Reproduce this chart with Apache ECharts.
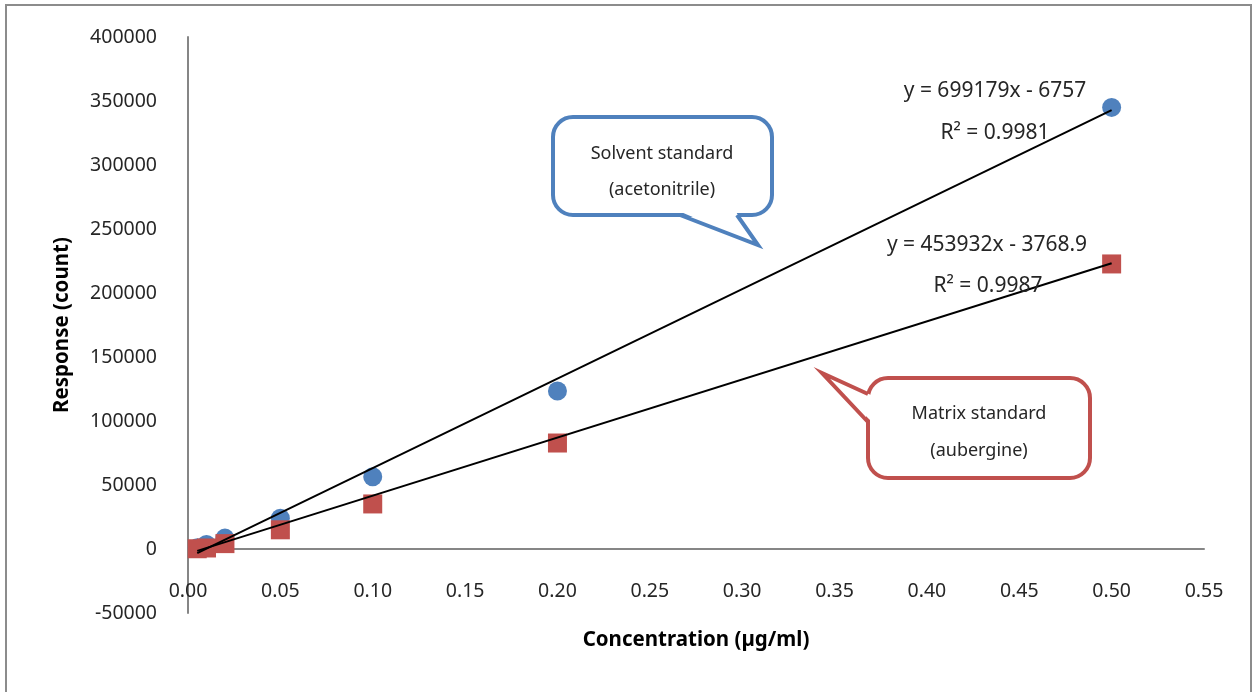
<!DOCTYPE html>
<html>
<head>
<meta charset="utf-8">
<script src="https://cdn.jsdelivr.net/npm/echarts@6/dist/echarts.min.js"></script>
<style>
  html, body { margin: 0; padding: 0; background: #fff; }
  #chart { width: 1253px; height: 692px; }
</style>
</head>
<body>
<div id="chart"></div>
<script>
// Данные: концентрация и отклик
const concentration = [0.005, 0.01, 0.02, 0.05, 0.1, 0.2, 0.5];
const solventResponse = [1000, 3500, 8500, 24000, 56500, 123500, 345000];
const matrixResponse = [200, 800, 4200, 15000, 35200, 82800, 222700];

// Линии тренда (концы по уравнениям)
const solventTrend = [[0.005, -3261], [0.5, 342833]];
const matrixTrend = [[0.005, -1499], [0.5, 223197]];

const xTicks = { min: 0, max: 0.55, interval: 0.05 };
const yTicks = { min: -50000, max: 400000, interval: 50000 };

const FONT = '"Noto Sans", "Open Sans", sans-serif';
const BLUE = '#4F81BD';
const RED = '#C0504D';

const chart = echarts.init(document.getElementById('chart'));

const pairs = (xs, ys) => xs.map((x, i) => [x, ys[i]]);

const txt = (x, y, text, size) => ({
  type: 'text', z: 12, x: x, y: y,
  style: { text: text, font: size + 'px ' + FONT, fill: '#262626', align: 'center', verticalAlign: 'middle' }
});

const option = {
  backgroundColor: '#fff',
  animation: false,
  grid: { left: 188, right: 49, top: 37, bottom: 79, outerBoundsMode: 'none', containLabel: false },
  xAxis: {
    type: 'value',
    min: xTicks.min, max: xTicks.max, interval: xTicks.interval,
    name: 'Concentration (µg/ml)',
    nameLocation: 'middle',
    nameGap: 17,
    nameTextStyle: { fontFamily: FONT, fontSize: 20.5, fontWeight: 'bold', color: '#000' },
    axisLine: { onZero: true, lineStyle: { color: '#868686', width: 2 } },
    axisTick: { show: false },
    splitLine: { show: false },
    axisLabel: {
      margin: -32, fontFamily: FONT, fontSize: 19.5, color: '#262626',
      formatter: v => v.toFixed(2)
    }
  },
  yAxis: {
    type: 'value',
    min: yTicks.min, max: yTicks.max, interval: yTicks.interval,
    name: 'Response (count)',
    nameLocation: 'middle',
    nameGap: 115,
    nameTextStyle: { fontFamily: FONT, fontSize: 20.5, fontWeight: 'bold', color: '#000' },
    axisLine: { show: true, onZero: false, lineStyle: { color: '#868686', width: 2 } },
    axisTick: { show: false },
    splitLine: { show: false },
    axisLabel: { margin: 31, fontFamily: FONT, fontSize: 19.5, color: '#262626', formatter: v => String(v) }
  },
  series: [
    {
      name: 'Solvent standard', type: 'scatter', symbol: 'circle', symbolSize: 19,
      itemStyle: { color: BLUE, opacity: 1 },
      data: pairs(concentration, solventResponse), z: 2
    },
    {
      name: 'Matrix standard', type: 'scatter', symbol: 'rect', symbolSize: 19,
      itemStyle: { color: RED, opacity: 1 },
      data: pairs(concentration, matrixResponse), z: 3
    },
    {
      type: 'line', data: solventTrend, symbol: 'none', z: 5,
      lineStyle: { color: '#000', width: 2 }
    },
    {
      type: 'line', data: matrixTrend, symbol: 'none', z: 5,
      lineStyle: { color: '#000', width: 2 }
    }
  ],
  graphic: [
    // рамка
    { type: 'rect', shape: { x: 6, y: 5, width: 1245, height: 700 },
      style: { fill: 'none', stroke: '#8c8c8c', lineWidth: 2 }, z: 0 },
    // выноска: растворитель
    { type: 'rect', z: 10, shape: { x: 553, y: 117, width: 219, height: 98, r: 20 },
      style: { fill: '#fff', stroke: BLUE, lineWidth: 4 } },
    { type: 'polygon', z: 11, shape: { points: [[681, 212], [758, 245], [736, 212]] },
      style: { fill: '#fff', stroke: 'none' } },
    { type: 'polyline', z: 11, shape: { points: [[680, 215], [758, 245], [737, 215]] },
      style: { fill: 'none', stroke: BLUE, lineWidth: 4, lineJoin: 'miter' } },
    txt(662, 154, 'Solvent standard', 18),
    txt(662, 190, '(acetonitrile)', 18),
    // выноска: матрица
    { type: 'rect', z: 10, shape: { x: 868, y: 378, width: 222, height: 100, r: 20 },
      style: { fill: '#fff', stroke: RED, lineWidth: 4 } },
    { type: 'polygon', z: 11, shape: { points: [[871, 395], [822, 373], [871, 421]] },
      style: { fill: '#fff', stroke: 'none' } },
    { type: 'polyline', z: 11, shape: { points: [[868, 394], [822, 373], [868, 422]] },
      style: { fill: 'none', stroke: RED, lineWidth: 4, lineJoin: 'miter' } },
    txt(979, 414, 'Matrix standard', 18),
    txt(979, 451, '(aubergine)', 18),
    // уравнения трендов
    txt(995, 91, 'y = 699179x - 6757', 21),
    txt(995, 133, 'R² = 0.9981', 21),
    txt(987, 245, 'y = 453932x - 3768.9', 21),
    txt(988, 286, 'R² = 0.9987', 21)
  ]
};

chart.setOption(option);
</script>
</body>
</html>
